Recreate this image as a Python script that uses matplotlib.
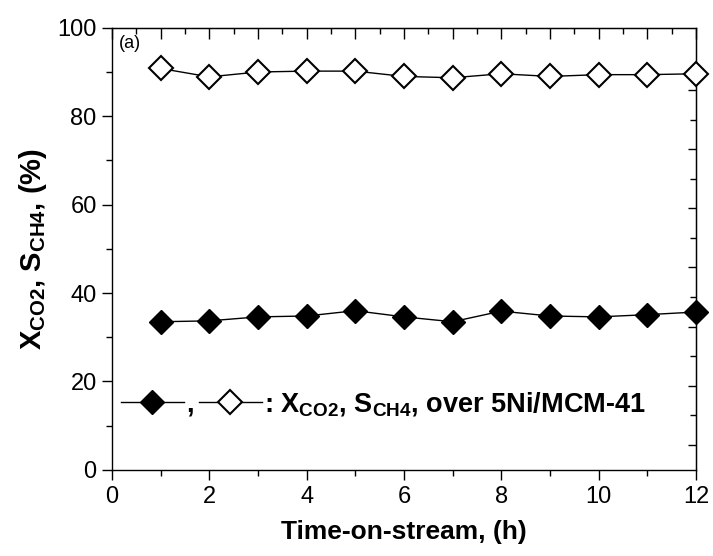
import matplotlib
matplotlib.use("Agg")
import matplotlib.pyplot as plt
from matplotlib.ticker import MultipleLocator, FixedLocator
import numpy as np

plt.rcParams['font.family'] = ['Liberation Sans', 'DejaVu Sans']
plt.rcParams['mathtext.fontset'] = 'custom'
plt.rcParams['mathtext.rm'] = 'Liberation Sans'
plt.rcParams['mathtext.bf'] = 'Liberation Sans:bold'

# time on stream (h)
hours = [1, 2, 3, 4, 5, 6, 7, 8, 9, 10, 11, 12]
# CO2 conversion and CH4 selectivity over 5Ni/MCM-41 (%)
x_co2 = [33.5, 33.7, 34.6, 34.8, 36.0, 34.6, 33.5, 35.9, 34.8, 34.6, 35.1, 35.7]
s_ch4 = [90.8, 88.9, 90.0, 90.2, 90.2, 89.0, 88.7, 89.6, 89.0, 89.4, 89.4, 89.6]

fig = plt.figure(figsize=(7.13, 5.56), dpi=100)
ax = fig.add_axes([0.157, 0.155, 0.819, 0.795])

l1, = ax.plot(hours, x_co2, color='black', lw=1, marker='D', ms=12,
              mfc='black', mec='black', clip_on=False, zorder=3)
l2, = ax.plot(hours, s_ch4, color='black', lw=1, marker='D', ms=12,
              mfc='white', mec='black', mew=1.5, clip_on=False, zorder=3)

ax.set_xlim(0, 12)
ax.set_ylim(0, 100)
ax.xaxis.set_major_locator(MultipleLocator(2))
ax.xaxis.set_minor_locator(MultipleLocator(1))
ax.yaxis.set_major_locator(MultipleLocator(20))
ax.yaxis.set_minor_locator(MultipleLocator(10))
ax.tick_params(which='both', direction='out', labelsize=17, width=1)
ax.tick_params(which='major', length=7)
ax.tick_params(which='minor', length=4)
ax.tick_params(axis='x', pad=5)
ax.tick_params(axis='y', pad=4)

# top axis: ticks every half hour, pointing in
top = ax.secondary_xaxis('top')
top.xaxis.set_major_locator(MultipleLocator(1))
top.xaxis.set_minor_locator(MultipleLocator(0.5))
top.tick_params(which='both', direction='in', labeltop=False, width=1)
top.tick_params(which='major', length=8)
top.tick_params(which='minor', length=4)

# right axis ticks pointing in
right = ax.secondary_yaxis('right')
right.yaxis.set_major_locator(FixedLocator(np.arange(5.7, 86, 13.36)))
right.yaxis.set_minor_locator(FixedLocator(np.arange(12.4, 86, 13.36)))
right.tick_params(which='both', direction='in', labelright=False, width=1)
right.tick_params(which='major', length=6)
right.tick_params(which='minor', length=4)

for s in ax.spines.values():
    s.set_linewidth(1)

ax.set_xlabel('Time-on-stream, (h)', fontsize=19, fontweight='bold', labelpad=8)
ax.set_ylabel(r'$\mathbf{X_{CO2}}$, $\mathbf{S_{CH4}}$, (%)', fontsize=21,
              fontweight='bold', labelpad=6)

ax.text(0.15, 96.5, '(a)', fontsize=13, va='center', ha='left')

leg = ax.legend([l1, l2], [',', r': $\mathbf{X_{CO2}}$, $\mathbf{S_{CH4}}$, over 5Ni/MCM-41'],
                ncol=2, loc='center left', bbox_to_anchor=(0.016, 0.15),
                frameon=False, handlelength=2.3, handletextpad=0.1,
                columnspacing=0.2, borderpad=0, borderaxespad=0,
                prop={'size': 19.5, 'weight': 'bold'})

fig.savefig('out.png', dpi=100)
